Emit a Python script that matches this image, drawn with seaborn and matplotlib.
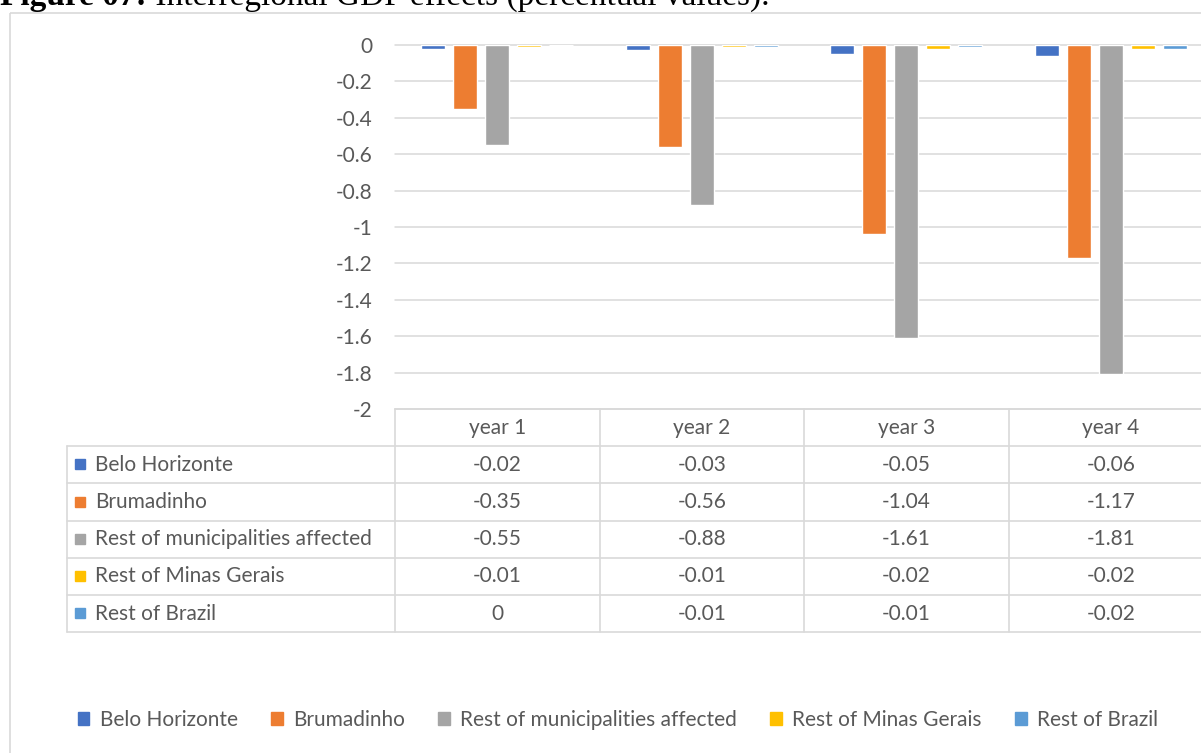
import numpy as np
import pandas as pd
import matplotlib
matplotlib.use('Agg')
import matplotlib.pyplot as plt
from matplotlib.patches import Rectangle, Patch
import seaborn as sns

years = ['year 1', 'year 2', 'year 3', 'year 4']
regions = ['Belo Horizonte', 'Brumadinho', 'Rest of municipalities affected',
           'Rest of Minas Gerais', 'Rest of Brazil']
belo_horizonte = [-0.02, -0.03, -0.05, -0.06]
brumadinho = [-0.35, -0.56, -1.04, -1.17]
rest_affected = [-0.55, -0.88, -1.61, -1.81]
rest_minas = [-0.01, -0.01, -0.02, -0.02]
rest_brazil = [0, -0.01, -0.01, -0.02]
y_ticks = [0, -0.2, -0.4, -0.6, -0.8, -1, -1.2, -1.4, -1.6, -1.8, -2]
colors = ['#4472C4', '#ED7D31', '#A5A5A5', '#FFC000', '#5B9BD5']

title_bold = 'Figure 07:'
title_rest = ' Interregional GDP effects (percentual values).'

# layout (pixels of the 1201x753 picture)
W, H = 1201, 753
PLOT_L, PLOT_T, PLOT_B = 395, 45, 409
COL_W = 204.5
TABLE_L = 67
ROW_H = 37.2
GRID = '#D9D9D9'
TXT = '#595959'
FS = 15

series = [belo_horizonte, brumadinho, rest_affected, rest_minas, rest_brazil]
df = pd.DataFrame([
    {'year': y, 'region': r, 'value': v}
    for r, vals in zip(regions, series)
    for y, v in zip(years, vals)
])

sns.set_theme(style='white')
plt.rcParams['font.family'] = ['Lato', 'DejaVu Sans']

fig = plt.figure(figsize=(W / 100, H / 100), dpi=100)
fig.patch.set_facecolor('white')

ax = fig.add_axes([PLOT_L / W, 1 - PLOT_B / H, len(years) * COL_W / W,
                   (PLOT_B - PLOT_T) / H])
sns.barplot(data=df, x='year', y='value', hue='region', order=years,
            hue_order=regions, palette=colors, saturation=1, width=0.78,
            gap=0.25, errorbar=None, legend=False, ax=ax, zorder=3)
ax.set_xlim(-0.5, len(years) - 0.5)
ax.set_ylim(-2, 0)
ax.set_yticks(y_ticks)
ax.set_yticklabels([f'{t:g}' for t in y_ticks])
ax.tick_params(axis='y', length=0, pad=16, labelsize=FS, labelcolor=TXT)
ax.tick_params(axis='x', length=0, labelbottom=False)
ax.set_xlabel('')
ax.set_ylabel('')
ax.grid(axis='y', color=GRID, linewidth=1.1)
ax.grid(axis='x', visible=False)
for gl in ax.get_ygridlines():
    gl.set_clip_on(False)
for s in ax.spines.values():
    s.set_visible(False)
ax.set_facecolor('none')

# overlay in pixel coordinates for frame, title and data table
ov = fig.add_axes([0, 0, 1, 1])
ov.set_xlim(0, W)
ov.set_ylim(H, 0)
ov.axis('off')

ov.add_patch(Rectangle((10, 13), W * 2, H * 2, fill=False, ec=GRID, lw=1.2))

# the page caption is cut by the top edge in the original screenshot
t1 = ov.text(0, 12, title_bold, fontfamily='Liberation Serif', fontweight='bold',
             fontsize=24, va='bottom', ha='left', color='black')
ov.annotate(title_rest, xy=(1, 0), xycoords=t1, va='bottom', ha='left',
            fontfamily='Liberation Serif', fontsize=24, color='black')

# data table
head_top = PLOT_B
body_top = head_top + ROW_H
body_bot = body_top + ROW_H * len(regions)
ov.plot([PLOT_L, W], [head_top, head_top], color=GRID, lw=1.2)
for i in range(len(regions) + 1):
    y = body_top + i * ROW_H
    ov.plot([TABLE_L, W], [y, y], color=GRID, lw=1.2)
ov.plot([TABLE_L, TABLE_L], [body_top, body_bot], color=GRID, lw=1.2)
for j in range(len(years) + 1):
    x = PLOT_L + j * COL_W
    ov.plot([x, x], [head_top, body_bot], color=GRID, lw=1.2)

for j, yr in enumerate(years):
    ov.text(PLOT_L + (j + 0.5) * COL_W, head_top + ROW_H / 2, yr,
            ha='center', va='center', fontsize=FS, color=TXT)
for i, (r, vals, c) in enumerate(zip(regions, series, colors)):
    yc = body_top + (i + 0.5) * ROW_H
    ov.add_patch(Rectangle((75, yc - 5.5), 10, 10, color=c))
    ov.text(95, yc, r, ha='left', va='center', fontsize=FS, color=TXT)
    for j, v in enumerate(vals):
        ov.text(PLOT_L + (j + 0.5) * COL_W, yc, f'{v:g}',
                ha='center', va='center', fontsize=FS, color=TXT)

handles = [Patch(color=c, label=r) for r, c in zip(regions, colors)]
fig.legend(handles=handles, loc='center', bbox_to_anchor=(618 / W, 1 - 720 / H),
           ncol=len(regions), frameon=False, fontsize=FS, labelcolor=TXT,
           handlelength=0.55, handleheight=0.55, handletextpad=0.5,
           columnspacing=1.6)

fig.savefig('out.png', dpi=100, facecolor='white')
